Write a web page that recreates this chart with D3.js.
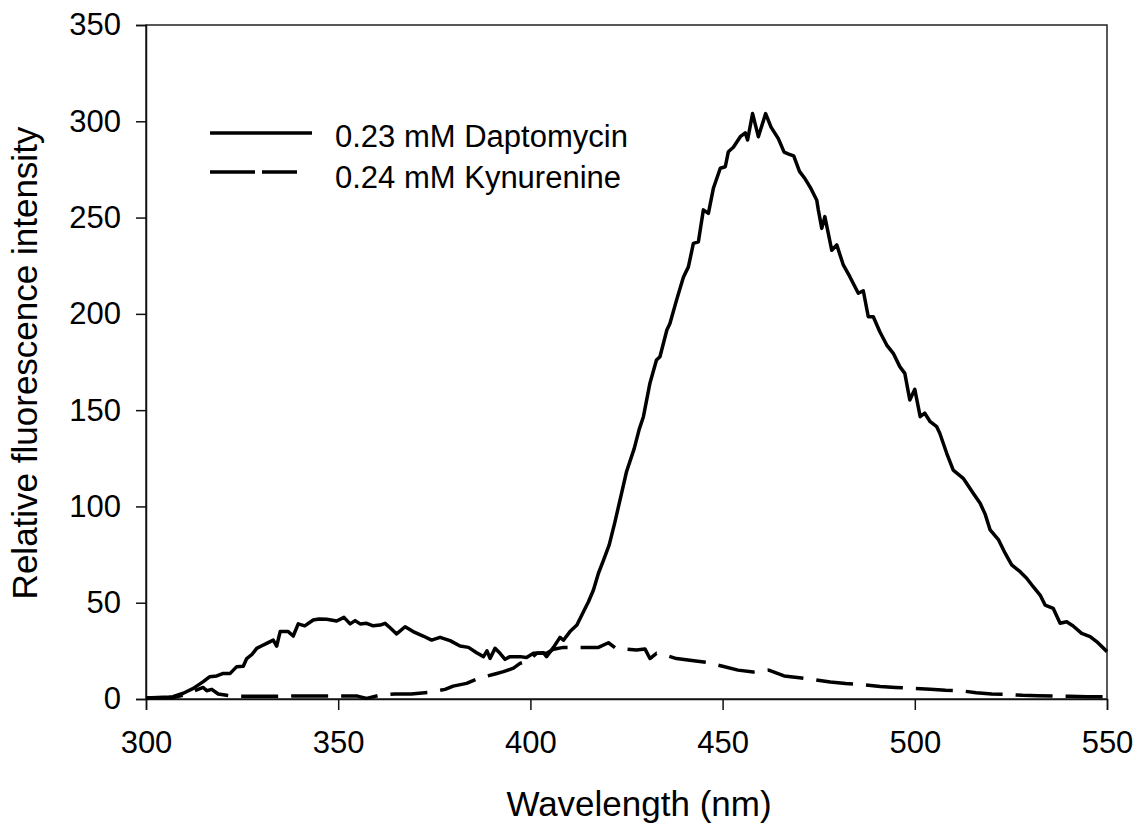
<!DOCTYPE html>
<html>
<head>
<meta charset="utf-8">
<script src="https://cdn.jsdelivr.net/npm/d3@7.9.0/dist/d3.min.js"></script>
<style>
  body { margin: 0; background: #fff; }
  svg { font-family: "Liberation Sans", Arial, sans-serif; }
</style>
</head>
<body>
<svg width="1139" height="824"></svg>
<script>
// Daptomycin (solid) - wavelength (nm) and intensity
const dapWl = [300, 303, 306, 307, 309.7, 312.3, 314.9, 316.6, 318.4, 320.1, 321.9, 323.6, 325.3, 326.2, 327.5, 328.8, 330, 331.4, 333.1, 334, 334.9, 337, 338.3, 339.6, 341.3, 343.5, 345, 347, 349.6, 351.5, 353.1, 354.4, 355.7, 357.4, 359.1, 360.9, 362.2, 363.5, 365.2, 367.4, 369.5, 372.1, 374.3, 376.5, 379.1, 381.7, 383.9, 386, 387.8, 388.7, 389.5, 390.8, 392.1, 393.4, 394.7, 397.3, 399, 400.8, 403.4, 404.2, 406, 407.7, 408.6, 410.3, 412.1, 413.8, 415.1, 416.4, 417.7, 419, 420.5, 422, 423.5, 425, 427, 428.3, 429.4, 431.1, 432.8, 433.7, 435.5, 436.3, 438, 439.8, 441.1, 442.4, 443.7, 445, 446.3, 447.6, 449.4, 450.7, 451.5, 452.8, 454.6, 455.9, 456.5, 457.8, 459.3, 461.2, 462.6, 464.5, 466, 467.2, 468.5, 470, 471.5, 473, 474.5, 474.9, 475.8, 476.6, 478.4, 479.7, 481.4, 483.1, 485.3, 486.6, 487.9, 489.2, 490.9, 492.7, 494.4, 496.1, 497.4, 498.7, 500, 501.4, 502.6, 504, 505.7, 506.5, 508.3, 510, 512.6, 515.2, 517, 518.3, 519.6, 521.8, 523.5, 525.2, 527.4, 529.1, 530.8, 532.6, 533.9, 536, 537.8, 539.5, 541.2, 543.4, 545.6, 547.3, 550];
const dapVal = [0.5, 0.8, 1.0, 1.2, 3, 5.5, 9, 11.6, 12, 13.3, 13.3, 16.8, 17, 21, 23, 26.3, 27.5, 28.9, 30.6, 27.5, 35, 35, 32.7, 39, 38, 41, 41.5, 41.4, 40.5, 42.4, 39, 40.7, 39, 39.3, 38, 38.4, 39.3, 37, 33.8, 37.5, 35, 32.7, 30.6, 32, 30.3, 27.5, 26.8, 24, 22, 25, 21.1, 26.3, 23.7, 20.6, 22, 22, 21.5, 23.7, 24, 22, 26.8, 32, 30.5, 35, 38.4, 45.3, 50.5, 56.6, 65.3, 72, 80, 92, 105, 118, 130, 140, 146.6, 164, 176, 177.7, 191.6, 195, 207, 219, 224.4, 236.6, 237.4, 254, 252.2, 265.2, 275.6, 276.4, 284.2, 286.5, 292, 294, 290.3, 304, 292, 304, 297, 291, 284, 283, 282, 274, 270, 265, 259, 254, 244.4, 250.5, 233, 235.8, 225.4, 219.3, 210.7, 212, 198.5, 198.5, 190.7, 183.8, 179.5, 172.6, 169.1, 155.3, 160.8, 146.6, 148.4, 144, 141.4, 138, 127.6, 118.9, 114.6, 106.8, 101.6, 96, 87.8, 82.6, 75.7, 69.6, 66.1, 62.7, 58.3, 54, 48.8, 47.1, 39.3, 40.1, 37.9, 34.1, 32.4, 29.8, 24.6];

// Kynurenine (dashed)
const kynWl = [300, 303, 307, 309.7, 312.7, 314.9, 315.8, 317.1, 318.8, 321.9, 326, 330, 335, 339, 343, 348, 352, 355, 357.4, 360.9, 364.8, 369, 373.9, 377.8, 379.9, 383.4, 386.5, 390.8, 393, 395.6, 397.3, 399.5, 401.6, 404.2, 406, 408.6, 411.2, 415.9, 417.7, 420.3, 422.5, 424.6, 427.6, 429.8, 431.1, 432.8, 434.1, 438, 442, 446, 450, 454, 458, 462, 466, 470, 474, 478, 482, 486, 491, 495, 499, 504, 508, 512, 516, 520, 524, 528, 532, 536, 540, 545, 550];
const kynVal = [0.7, 0.7, 0.7, 2, 4.3, 6, 4.3, 5, 2.6, 1.6, 1.4, 1.4, 1.4, 1.6, 1.6, 1.6, 1.5, 1.5, 0.3, 2, 2.6, 2.6, 3.5, 5, 6.7, 8.1, 10.7, 13, 14.2, 16, 18.5, 19.9, 23.7, 23.7, 25.8, 26.8, 26.8, 26.8, 26.8, 29.2, 26, 26, 25.4, 26, 21, 23.7, 23.4, 21, 20, 19, 17, 15, 14, 15, 12, 11, 10, 8.8, 8, 7.5, 6.5, 6, 5.6, 5, 4.5, 4.3, 3.2, 2.6, 2.4, 1.9, 1.7, 1.6, 1.4, 1.2, 1.2];

const xTicks = [300, 350, 400, 450, 500, 550];
const yTicks = [0, 50, 100, 150, 200, 250, 300, 350];
const seriesNames = ["0.23 mM Daptomycin", "0.24 mM Kynurenine"];

const svg = d3.select("svg");
const plot = { left: 146, right: 1107, top: 25, bottom: 699 };

const x = d3.scaleLinear().domain([300, 550]).range([plot.left, plot.right]);
const y = d3.scaleLinear().domain([0, 350]).range([plot.bottom, plot.top]);

// frame
svg.append("rect")
  .attr("x", plot.left).attr("y", plot.top)
  .attr("width", plot.right - plot.left).attr("height", plot.bottom - plot.top)
  .attr("fill", "none").attr("stroke", "#222").attr("stroke-width", 1.5);

const xAxis = svg.append("g")
  .attr("transform", `translate(0,${plot.bottom})`)
  .call(d3.axisBottom(x).tickValues(xTicks).tickSize(11).tickPadding(21).tickFormat(d3.format("d")));
const yAxis = svg.append("g")
  .attr("transform", `translate(${plot.left},0)`)
  .call(d3.axisLeft(y).tickValues(yTicks).tickSize(10).tickPadding(15).tickFormat(d3.format("d")));

[xAxis, yAxis].forEach(g => {
  g.select(".domain").attr("stroke", "#111").attr("stroke-width", 1.5);
  g.selectAll(".tick line").attr("stroke", "#111").attr("stroke-width", 1.5);
  g.selectAll(".tick text").attr("fill", "#000").style("font-size", "31px");
});

svg.append("text")
  .attr("x", 639).attr("y", 816)
  .attr("text-anchor", "middle")
  .style("font-size", "35px")
  .text("Wavelength (nm)");

svg.append("text")
  .attr("transform", `translate(37,363) rotate(-90)`)
  .attr("text-anchor", "middle")
  .style("font-size", "35px")
  .text("Relative fluorescence intensity");

const line = d3.line()
  .x(d => x(d[0]))
  .y(d => y(d[1]));

svg.append("path")
  .datum(kynWl.map((w, i) => [w, kynVal[i]]))
  .attr("d", line)
  .attr("fill", "none")
  .attr("stroke", "#000")
  .attr("stroke-width", 3.5)
  .attr("stroke-dasharray", "37 13")
  .attr("stroke-linejoin", "round");

svg.append("path")
  .datum(dapWl.map((w, i) => [w, dapVal[i]]))
  .attr("d", line)
  .attr("fill", "none")
  .attr("stroke", "#000")
  .attr("stroke-width", 3.5)
  .attr("stroke-linejoin", "round");

// legend
const legend = svg.append("g");
legend.append("line")
  .attr("x1", 210).attr("x2", 312).attr("y1", 133).attr("y2", 133)
  .attr("stroke", "#000").attr("stroke-width", 3.5);
legend.append("line")
  .attr("x1", 210).attr("x2", 297).attr("y1", 172).attr("y2", 172)
  .attr("stroke", "#000").attr("stroke-width", 3.5)
  .attr("stroke-dasharray", "45 7");
legend.selectAll("text.leg")
  .data(seriesNames)
  .join("text")
  .attr("class", "leg")
  .attr("x", 335)
  .attr("y", (d, i) => 147 + i * 41)
  .style("font-size", "31px")
  .text(d => d);
</script>
</body>
</html>
